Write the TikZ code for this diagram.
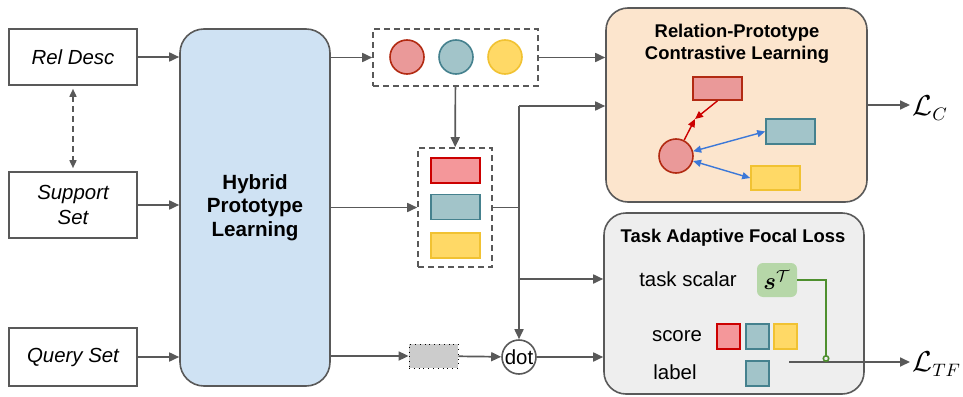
\documentclass[tikz,border=0pt]{standalone}
\usepackage{fontspec}
\setmainfont{Liberation Sans}
\usepackage{amsmath}
\usepackage{amssymb}
\usepackage{xcolor}
\usetikzlibrary{arrows.meta, calc, positioning}
\definecolor{linegray}{HTML}{595959}
\definecolor{hybridblue}{HTML}{CFE2F3}
\definecolor{rpclorange}{HTML}{FCE5CD}
\definecolor{taflgray}{HTML}{EEEEEE}
\definecolor{protored}{HTML}{EA9999}
\definecolor{protoredd}{HTML}{B22A12}
\definecolor{prototeal}{HTML}{A2C4C9}
\definecolor{prototeald}{HTML}{45818E}
\definecolor{protoyellow}{HTML}{FFD966}
\definecolor{protoyellowd}{HTML}{F1C232}
\definecolor{rectred}{HTML}{F4979A}
\definecolor{rectredd}{HTML}{CC0000}
\definecolor{scalargreen}{HTML}{B6D7A8}
\definecolor{lossgreen}{HTML}{4E8F2E}
\definecolor{arrowblue}{HTML}{3C78D8}
\definecolor{arrowred}{HTML}{CC0000}
\tikzset{inbox/.style={draw=linegray, line width=0.8pt, fill=white, minimum width=64pt, align=center, font=\fontsize{10.2}{12.5}\selectfont\itshape},
roundbox/.style={draw=linegray, line width=0.8pt, rounded corners=12pt},
dashbox/.style={draw=linegray, line width=0.8pt, dash pattern=on 3pt off 2pt},
protoc/.style={circle, minimum size=17pt, inner sep=0pt, line width=0.8pt},
protor/.style={rectangle, minimum width=24.5pt, minimum height=12.5pt, inner sep=0pt, line width=0.8pt},
scoresq/.style={rectangle, minimum width=11.5pt, minimum height=12.5pt, inner sep=0pt, line width=0.8pt},
arr/.style={draw=linegray, line width=0.85pt, -{Triangle[length=5pt,width=4.5pt]}},
redarr/.style={draw=arrowred, line width=0.7pt, -{Triangle[length=4pt,width=3.5pt]}},
bluearr/.style={draw=arrowblue, line width=0.7pt, {Triangle[length=4pt,width=3.5pt]}-{Triangle[length=4pt,width=3.5pt]}},
plaintext/.style={font=\fontsize{10.2}{12.5}\selectfont},
boxtitle/.style={font=\bfseries\fontsize{9.2}{11}\selectfont, align=center}}

\begin{document}
\begin{tikzpicture}[x=0.5pt, y=-0.5pt]
 \useasboundingbox (0,0) rectangle (963,396);

 %Drawing Input Boxes
 \node[inbox, minimum height=28pt] (reldesc) at (73,57) {Rel Desc};
 \node[inbox, minimum height=33pt] (supportset) at (73,205) {Support\\Set};
 \node[inbox, minimum height=29pt] (queryset) at (73,357) {Query Set};
 \draw[draw=linegray, line width=0.8pt, dash pattern=on 3pt off 2pt, {Triangle[length=4pt,width=3.5pt]}-{Triangle[length=4pt,width=3.5pt]}, shorten <=1.5pt, shorten >=1.5pt] (reldesc) -- (supportset);

 %Drawing Hybrid Block
 \node[roundbox, fill=hybridblue, minimum width=75pt, minimum height=178.5pt, font=\bfseries\fontsize{10.3}{11.75}\selectfont, align=center] (hybridbox) at (255,207.5) {Hybrid\\Prototype\\Learning};
 \draw[arr] (reldesc.east) -- (reldesc.east -| hybridbox.west);
 \draw[arr] (supportset.east) -- (supportset.east -| hybridbox.west);
 \draw[arr] (queryset.east) -- (queryset.east -| hybridbox.west);

 %Drawing Prototypes
 \node[dashbox, minimum width=82.5pt, minimum height=28.5pt] (circbox) at (455.5,57.5) {};
 \node[protoc, fill=protored, draw=protoredd] (pred) at (407,57) {};
 \node[protoc, fill=prototeal, draw=prototeald] (pteal) at (456,57) {};
 \node[protoc, fill=protoyellow, draw=protoyellowd] (pyellow) at (505,57) {};

 \node[dashbox, minimum width=37pt, minimum height=59.5pt] (rectbox) at (455,207.5) {};
 \node[protor, fill=rectred, draw=rectredd] (rred) at (455.5,170.5) {};
 \node[protor, fill=prototeal, draw=prototeald] (rteal) at (455.5,207) {};
 \node[protor, fill=protoyellow, draw=protoyellowd] (ryellow) at (455.5,245.5) {};

 \node[draw=black, dotted, fill=black!20, minimum width=24.5pt, minimum height=12pt, inner sep=0pt] (graybox) at (433.5,356) {};
 \node[circle, draw=linegray, line width=0.8pt, minimum size=17pt, inner sep=0pt, plaintext] (dotnode) at (519,357) {dot};

 %Drawing Contrastive Block
 \node[roundbox, fill=rpclorange, minimum width=130.5pt, minimum height=97pt, rounded corners=11pt] (rpclbox) at (736.5,105) {};
 \node[boxtitle] (rpcltitle) at (737,44) {Relation-Prototype\\Contrastive Learning};
 \node[protor, fill=protored, draw=protoredd, minimum height=11.5pt] (cred) at (717.5,88.5) {};
 \node[protor, fill=prototeal, draw=prototeald] (cteal) at (790.5,131.5) {};
 \node[protor, fill=protoyellow, draw=protoyellowd, minimum height=12pt] (cyellow) at (775.5,178) {};
 \node[protoc, fill=protored, draw=protoredd] (ccirc) at (676,156) {};
 \coordinate (cmeet) at (695,119);
 \draw[redarr] (cred.south) -- (cmeet);
 \draw[redarr] (ccirc) -- (cmeet);
 \draw[bluearr] (ccirc) -- (cteal.west);
 \draw[bluearr] (ccirc) -- (cyellow.west);
 \node[inner sep=1pt, anchor=west, font=\fontsize{13.5}{15}\selectfont] (losscon) at (910,108) {$\mathcal{L}_C$};
 \draw[arr] (rpclbox.east) -- (rpclbox.east -| losscon.west);

 %Drawing Focal Loss Block
 \node[roundbox, fill=taflgray, minimum width=130pt, minimum height=90.5pt, rounded corners=11pt] (taflbox) at (734,303.5) {};
 \node[boxtitle] (tafltitle) at (733,238) {Task Adaptive Focal Loss};
 \node[plaintext] (scalarlabel) at (688,279) {task scalar};
 \node[fill=scalargreen, rounded corners=3pt, minimum width=20pt, minimum height=17pt, inner sep=0pt, font=\fontsize{12}{14}\selectfont] (scalarbox) at (777,280) {$\boldsymbol{s}^{\mathcal{T}}$};
 \node[plaintext] (scorelabel) at (677,336) {score};
 \node[scoresq, fill=rectred, draw=rectredd] (sred) at (728.5,336.5) {};
 \node[scoresq, fill=prototeal, draw=prototeald] (steal) at (757.5,336.5) {};
 \node[scoresq, fill=protoyellow, draw=protoyellowd] (syellow) at (785.5,336.5) {};
 \node[plaintext] (labellabel) at (675,372) {label};
 \node[scoresq, fill=prototeal, draw=prototeald] (lteal) at (757.5,373.5) {};
 \coordinate (tfstart) at (789,362);
 \node[inner sep=1pt, anchor=west, font=\fontsize{13.5}{15}\selectfont] (losstf) at (910,364) {$\mathcal{L}_{TF}$};
 \draw[arr] (tfstart) -- (tfstart -| losstf.west);
 \coordinate (gdrop) at (826,362);
 \draw[draw=lossgreen, line width=0.8pt, -{Circle[open, length=3.5pt]}] (scalarbox.east) -| (gdrop);

 %Drawing Connectors
 \coordinate (jtop) at (519,106);
 \coordinate (jmid) at (519,207.5);
 \coordinate (jlow) at (519,279);
 \draw[arr] (hybridbox.east |- circbox.west) -- (circbox.west);
 \draw[arr] (hybridbox.east |- rectbox.west) -- (rectbox.west);
 \draw[arr] (hybridbox.east |- graybox.west) -- (graybox.west);
 \draw[arr] (graybox) -- (dotnode);
 \draw[arr] (circbox) -- (rectbox);
 \draw[draw=linegray, line width=0.85pt] (rectbox.east) -- (jmid);
 \draw[arr] (jtop) -- (dotnode);
 \draw[arr] (jtop) -- (jtop -| rpclbox.west);
 \draw[arr] (jlow) -- (jlow -| taflbox.west);
 \draw[arr] (circbox.east) -- (circbox.east -| rpclbox.west);
 \draw[arr] (dotnode) -- (dotnode -| taflbox.west);

\end{tikzpicture}
\end{document}
